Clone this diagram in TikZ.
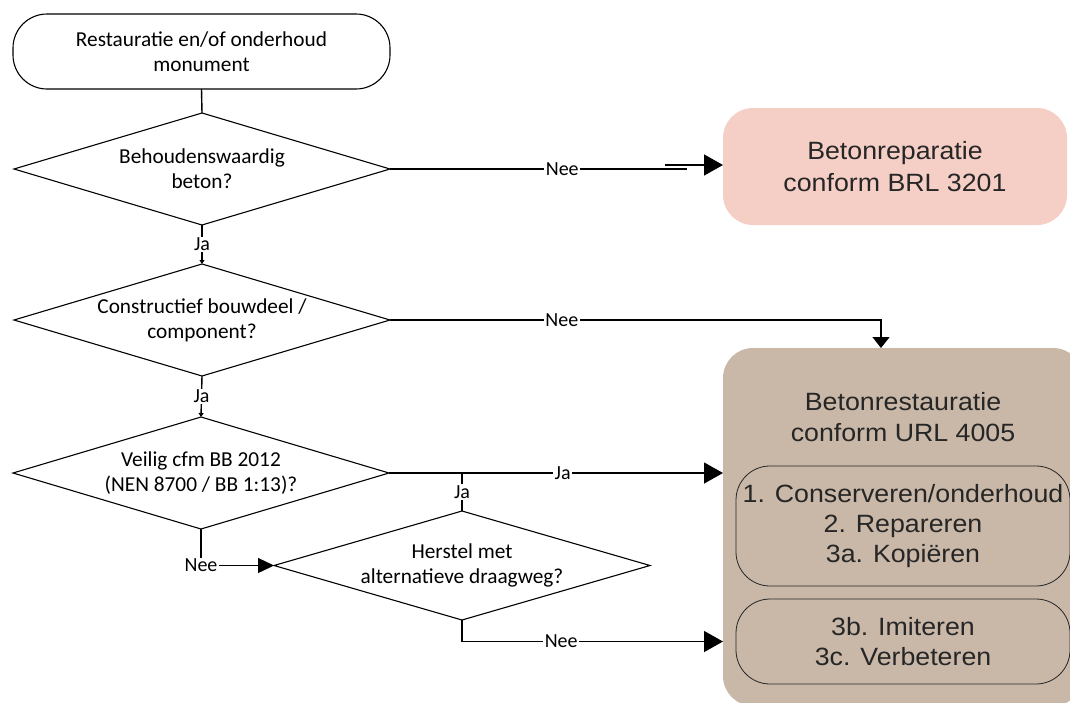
\documentclass[tikz,border=0pt]{standalone}
\usepackage{fontspec}
\setmainfont{Carlito}
\newfontfamily\arialfont[FakeStretch=1.07]{Liberation Sans}
\usetikzlibrary{shapes.geometric,arrows.meta}
\definecolor{brlroze}{HTML}{F5CFC6}
\definecolor{urltaupe}{HTML}{C9B8A8}
\definecolor{vaktekst}{HTML}{262626}
\begin{document}
\begin{tikzpicture}[y=1pt,x=1pt,yscale=-1, inner sep=0pt, outer sep=0pt,
  conn/.style={draw=black,line join=miter,line cap=butt,line width=1.4pt},
  pijlgroot/.style={-{Triangle[length=19pt,width=21pt]}},
  pijlklein/.style={-{Triangle[length=4pt,width=5pt]}},
  keuze/.style={diamond,aspect=3.4,draw=black,line width=1.1pt,minimum width=376pt,
    minimum height=112pt,align=center,font=\fontsize{21.3}{25}\selectfont},
  lbl/.style={fill=white,inner sep=1.5pt,font=\fontsize{20}{24}\selectfont},
  vak/.style={rectangle,rounded corners=30pt,align=center,text=vaktekst,
    font=\arialfont\fontsize{25}{31.5}\selectfont},
  subvak/.style={rectangle,rounded corners=34pt,draw=vaktekst,line width=0.8pt,align=center,
    text=vaktekst,minimum width=334pt,font=\arialfont\fontsize{25}{30}\selectfont}]
\useasboundingbox (0,0) rectangle (1070,702);

% start
\path[draw=black,line width=1.1pt] (201.5,51.5) node[rectangle,rounded corners=34pt,draw,
  minimum width=377pt,minimum height=75pt,align=center,font=\fontsize{21.3}{25}\selectfont]
  (start) {Restauratie en/of onderhoud\\monument};

% vragen
\path (202,169) node[keuze] (beton) {Behoudenswaardig\\beton?};
\path (202,320) node[keuze] (constr) {Constructief bouwdeel /\\component?};
\path (201,473) node[keuze] (veilig) {Veilig cfm BB 2012\\(NEN 8700 / BB 1:13)?};
\path (462,565.5) node[keuze,minimum height=109pt] (herstel) {Herstel met\\alternatieve draagweg?};

% uitkomsten
\path (895,166.5) node[vak,fill=brlroze,minimum width=344pt,minimum height=117pt]
  (brl) {Betonreparatie\\conform BRL 3201};
\path (903,527) node[vak,fill=urltaupe,minimum width=360pt,minimum height=358pt] (url) {};
\path (903,417) node[vak] (urltitel) {Betonrestauratie\\conform URL 4005};
\path (903,526) node[subvak,minimum height=120pt] (sub1)
  {1. Conserveren/onderhoud\\2. Repareren\\3a. Kopiëren};
\path (903,641.5) node[subvak,minimum height=85pt] (sub2) {3b. Imiteren\\3c. Verbeteren};

% verbindingen
\coordinate (knik1) at (687,169);
\coordinate (knik2) at (665,165);
\path[conn] (start.south) -- (beton.north);
\path[conn] (beton.east) -- node[lbl,pos=0.58] {Nee} (knik1);
\path[conn,pijlgroot] (knik2) -- (brl.west |- knik2);
\path[conn,pijlklein] (beton.south) -- node[lbl] {Ja} (constr.north);
\path[conn,-{Triangle[length=11pt,width=17pt]}] (constr.east) -| node[lbl,pos=0.175] {Nee}
  (881,0 |- url.north);
\path[conn,pijlklein] (constr.south) -- node[lbl] {Ja} (veilig.north);
\path[conn,pijlgroot] (veilig.east) -- node[lbl,pos=0.52] {Ja} (url.west |- veilig.east);
\path[conn] (herstel.north) -- node[lbl] {Ja} (herstel.north |- veilig.east);
\path[conn,-{Triangle[length=16pt,width=15pt]}] (veilig.south) |- node[lbl] {Nee}
  (herstel.west);
\path[conn,pijlgroot] (herstel.south) |- node[lbl,pos=0.69] {Nee} (url.west |- sub2.west);
\end{tikzpicture}
\end{document}
